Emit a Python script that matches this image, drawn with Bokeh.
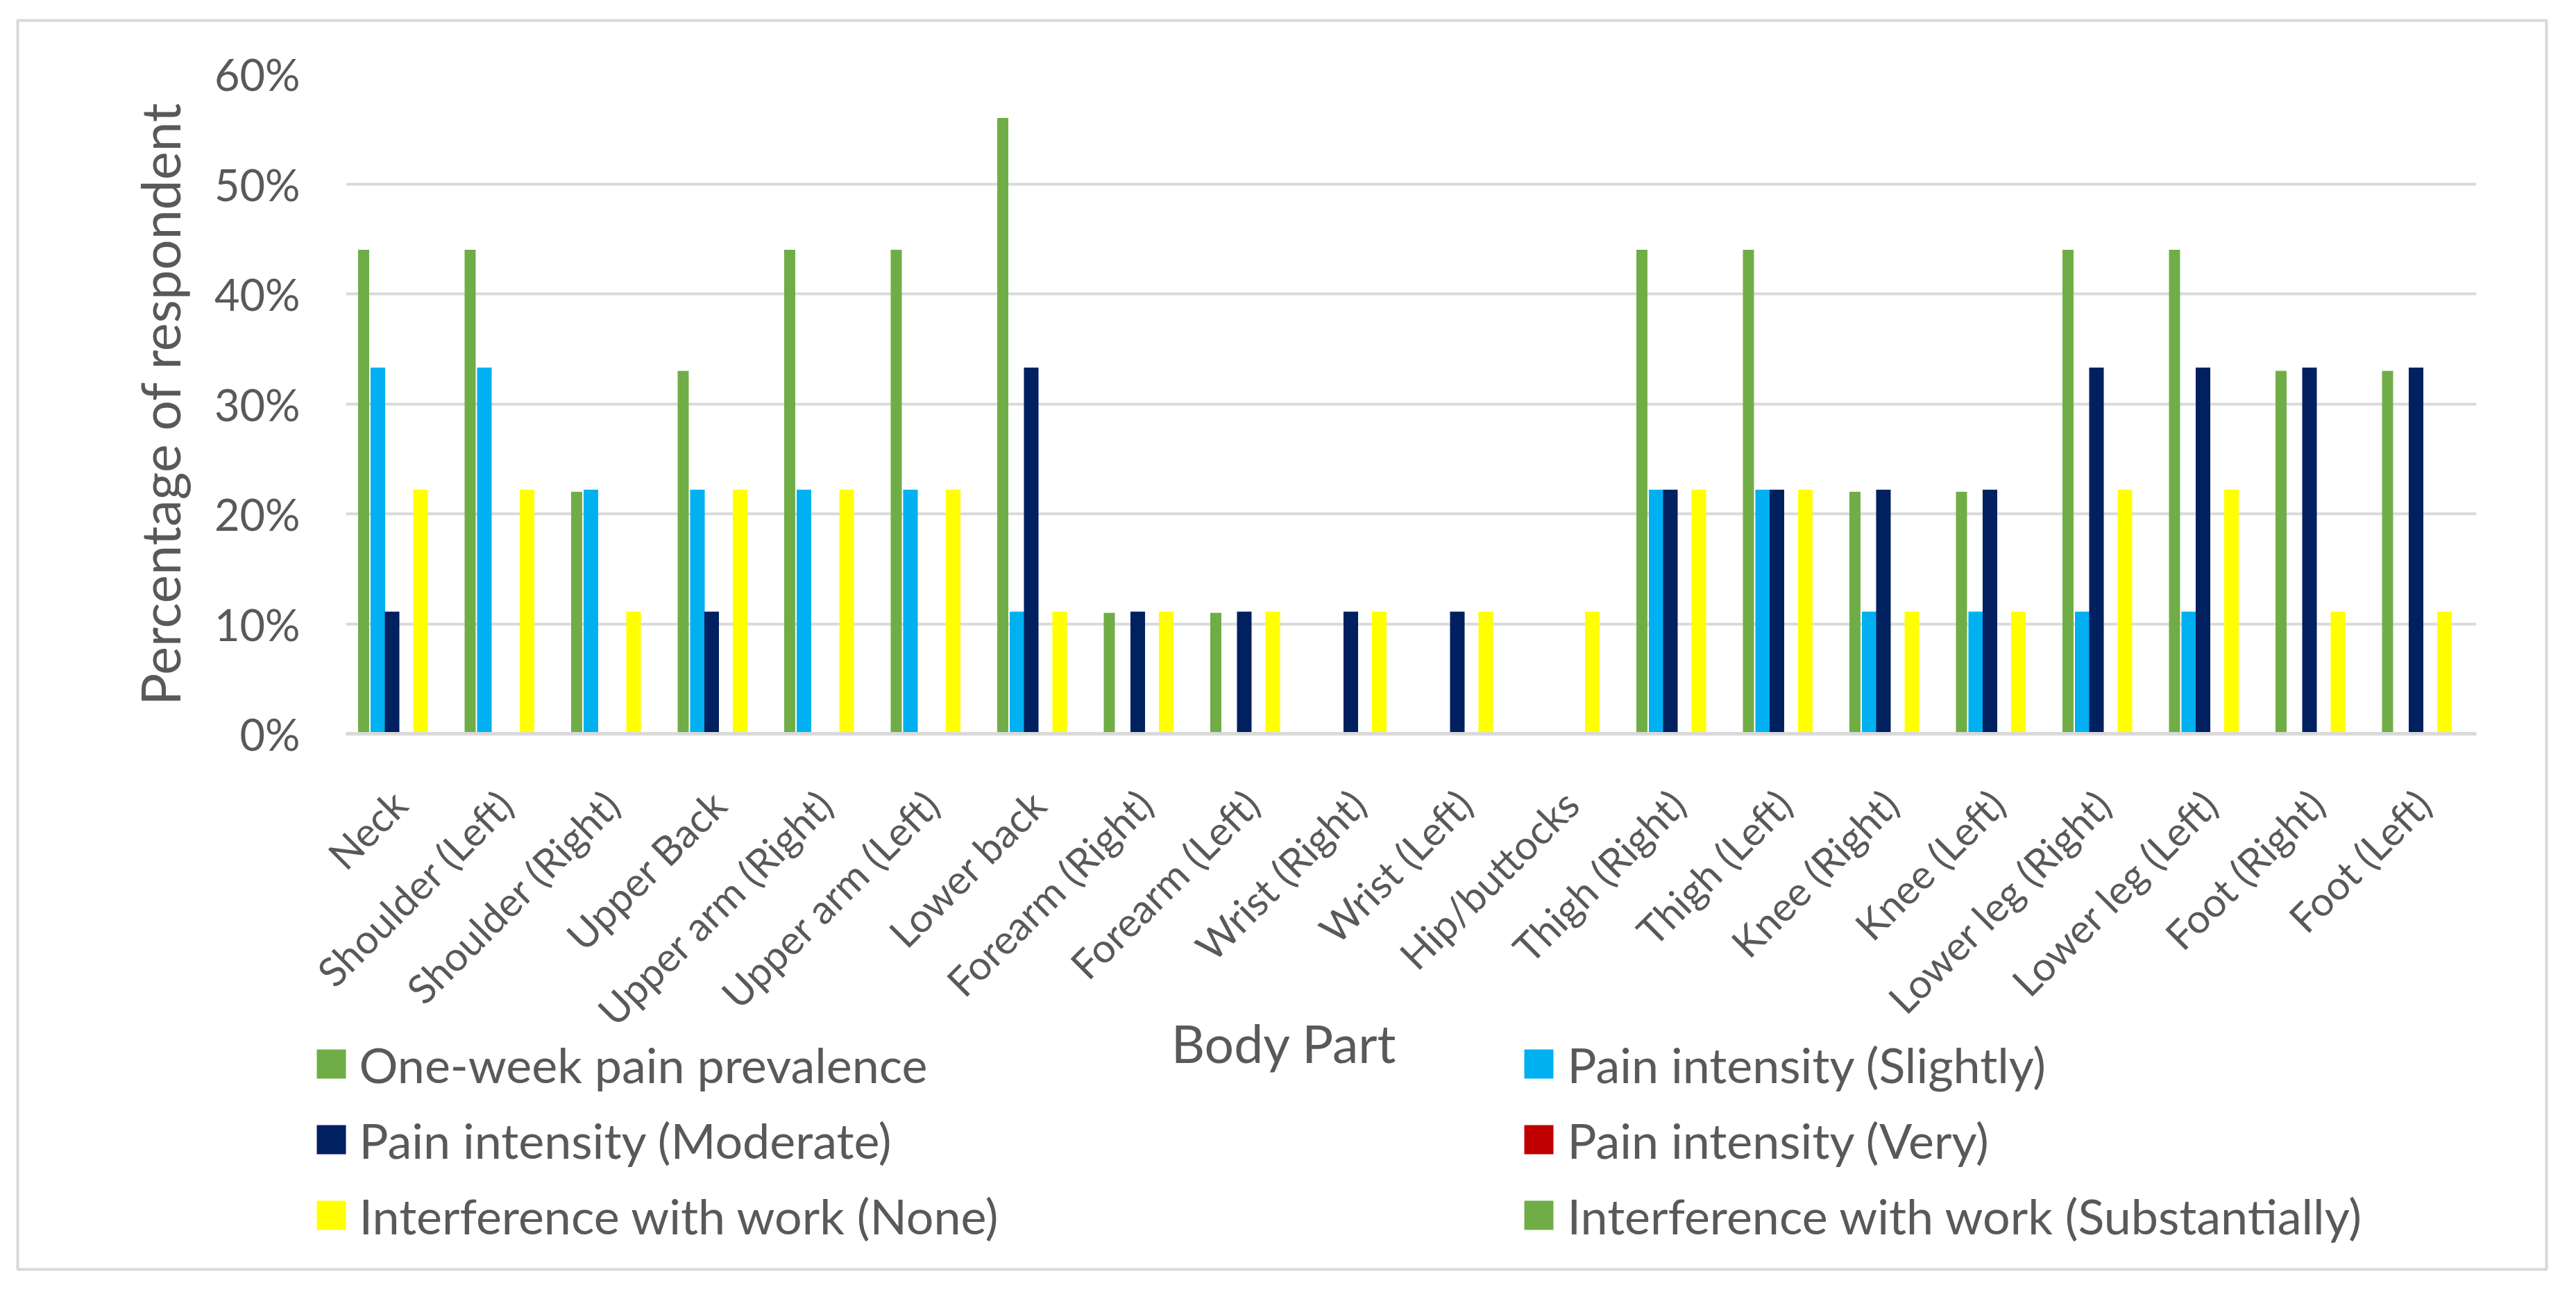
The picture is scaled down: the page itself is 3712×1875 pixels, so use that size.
import math
from bokeh.plotting import figure
from bokeh.layouts import column
from bokeh.models import (ColumnDataSource, FactorRange, Range1d, FixedTicker, PrintfTickFormatter)
from bokeh.transform import dodge
from bokeh.core.properties import value
from bokeh.embed import file_html
from bokeh.resources import INLINE

# ---------------- data ----------------
body_parts = ["Neck", "Shoulder (Left)", "Shoulder (Right)", "Upper Back", "Upper arm (Right)",
              "Upper arm (Left)", "Lower back", "Forearm (Right)", "Forearm (Left)", "Wrist (Right)",
              "Wrist (Left)", "Hip/buttocks", "Thigh (Right)", "Thigh (Left)", "Knee (Right)",
              "Knee (Left)", "Lower leg (Right)", "Lower leg (Left)", "Foot (Right)", "Foot (Left)"]
one_week = [44, 44, 22, 33, 44, 44, 56, 11, 11, 0, 0, 0, 44, 44, 22, 22, 44, 44, 33, 33]
slightly = [33.3, 33.3, 22.2, 22.2, 22.2, 22.2, 11.1, 0, 0, 0, 0, 0, 22.2, 22.2, 11.1, 11.1, 11.1, 11.1, 0, 0]
moderate = [11.1, 0, 0, 11.1, 0, 0, 33.3, 11.1, 11.1, 11.1, 11.1, 0, 22.2, 22.2, 22.2, 22.2, 33.3, 33.3, 33.3, 33.3]
very = [0, 0, 0, 0, 0, 0, 0, 0, 0, 0, 0, 0, 0, 0, 0, 0, 0, 0, 0, 0]
work_none = [22.2, 22.2, 11.1, 22.2, 22.2, 22.2, 11.1, 11.1, 11.1, 11.1, 11.1, 11.1, 22.2, 22.2, 11.1, 11.1, 22.2, 22.2, 11.1, 11.1]
work_subst = [0, 0, 0, 0, 0, 0, 0, 0, 0, 0, 0, 0, 0, 0, 0, 0, 0, 0, 0, 0]
series_names = ["One-week pain prevalence", "Pain intensity (Slightly)", "Pain intensity (Moderate)",
                "Pain intensity (Very)", "Interference with work (None)", "Interference with work (Substantially)"]
y_ticks = [0, 10, 20, 30, 40, 50, 60]

colors = ["#70AD47", "#00B0F0", "#002060", "#C00000", "#FFFF00", "#70AD47"]
keys = ["one_week", "slightly", "moderate", "very", "work_none", "work_subst"]

source = ColumnDataSource(dict(part=body_parts, one_week=one_week, slightly=slightly, moderate=moderate,
                               very=very, work_none=work_none, work_subst=work_subst))

FONT = "Lato"
TXT = "#595959"

# page geometry (pixels of the 3712x1875 window)
X0, Y0 = 28, 30          # top-left of both figures on the page
W, H = 3656, 1812

# ---------------- main chart ----------------
p = figure(width=W, height=H, x_range=FactorRange(*body_parts, range_padding=0),
           y_range=Range1d(0, 60), output_backend="svg", toolbar_location=None,
           min_border_left=506 - X0, min_border_right=X0 + W - 3576,
           min_border_top=114 - Y0, min_border_bottom=Y0 + H - 1065)
p.frame_align = False
p.margin = (Y0 - 8, 0, 0, X0 - 8)
p.outline_line_color = None
p.background_fill_color = "white"
p.border_fill_color = "white"

pitch = 0.1336
renderers = []
for i, (k, c) in enumerate(zip(keys, colors)):
    w = 0.104 if i == 0 else 0.137
    r = p.vbar(x=dodge("part", (i - 2.5) * pitch, range=p.x_range), top=k, width=w, source=source,
               fill_color=c, line_color=None)
    renderers.append(r)

p.xgrid.grid_line_color = None
p.ygrid.grid_line_color = "#D9D9D9"
p.ygrid.grid_line_width = 4
p.yaxis.ticker = FixedTicker(ticks=y_ticks)
p.yaxis.formatter = PrintfTickFormatter(format="%d%%")
p.yaxis.axis_line_color = None
p.yaxis.major_tick_line_color = None
p.yaxis.minor_tick_line_color = None
p.yaxis.major_label_standoff = 60
p.yaxis.major_label_text_font = FONT
p.yaxis.major_label_text_font_size = "63px"
p.yaxis.major_label_text_color = TXT
p.yaxis.axis_label = "Percentage of respondent"
p.yaxis.axis_label_text_font = FONT
p.yaxis.axis_label_text_font_size = "77px"
p.yaxis.axis_label_text_font_style = "normal"
p.yaxis.axis_label_text_color = TXT
p.yaxis.axis_label_standoff = 30

p.xaxis.axis_line_color = "#D9D9D9"
p.xaxis.axis_line_width = 5
p.xaxis.major_tick_line_color = None
p.xaxis.minor_tick_line_color = None
p.xaxis.major_label_orientation = math.pi / 4
p.xaxis.major_label_standoff = 85
p.xaxis.major_label_text_font = FONT
p.xaxis.major_label_text_font_size = "58px"
p.xaxis.major_label_text_color = TXT

# ---------------- transparent overlay: border, axis title, legend ----------------
o = figure(width=W, height=H, x_range=Range1d(X0, X0 + W), y_range=Range1d(Y0 + H, Y0),
           output_backend="svg", toolbar_location=None, x_axis_location=None, y_axis_location=None,
           min_border=0, min_border_left=0, min_border_right=0, min_border_top=0, min_border_bottom=0)
o.frame_align = False
o.margin = (-H, 0, 0, X0 - 8)
o.outline_line_color = None
o.background_fill_alpha = 0
o.border_fill_alpha = 0
o.grid.visible = False

o.quad(left=[33], right=[3677], top=[37], bottom=[1837], fill_color=None,
       line_color="#D9D9D9", line_width=4)
o.text(x=[1858], y=[1510], text=["Body Part"], text_font=value(FONT), text_font_size="75px",
       text_color=TXT, text_align="center", text_baseline="alphabetic")

col_sw = [485, 2225]
col_tx = [525, 2266]
rows_y = [1541, 1650, 1759]
sw_x = [col_sw[i % 2] for i in range(len(series_names))]
tx_x = [col_tx[i % 2] for i in range(len(series_names))]
lg_y = [rows_y[i // 2] for i in range(len(series_names))]
o.rect(x=sw_x, y=lg_y, width=42, height=42, fill_color=colors, line_color=None)
o.text(x=tx_x, y=lg_y, text=series_names, text_font=value(FONT), text_font_size="70px",
       text_color=TXT, text_align="left", text_baseline="middle")

layout = column(p, o)
open("out.html", "w").write(file_html(layout, INLINE))
